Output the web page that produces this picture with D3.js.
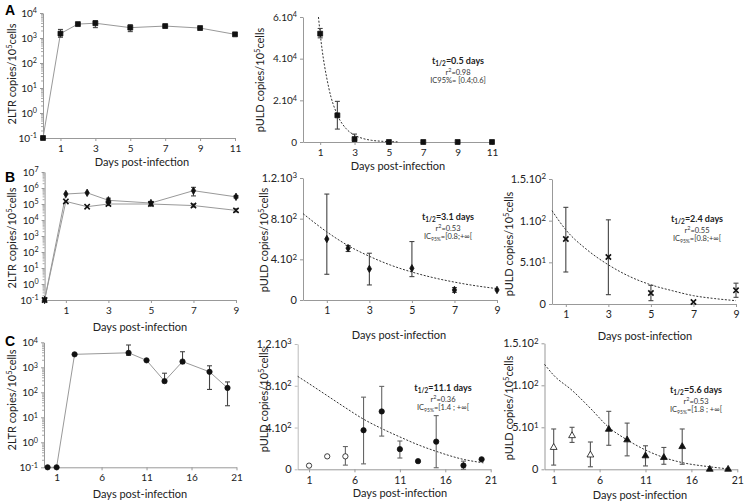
<!DOCTYPE html>
<html>
<head>
<meta charset="utf-8">
<script src="https://cdn.jsdelivr.net/npm/d3@7"></script>
<style>
body { margin: 0; background: #fff; }
svg { font-family: Lato, "Liberation Sans", sans-serif; }
</style>
</head>
<body>
<svg id="fig" width="748" height="504"></svg>
<script>
(function(){

//---- panel A : 2LTR and pULD, days 0-11
var daysA = [0, 1, 2, 3, 5, 7, 9, 11];
var ltrA = [0.1, 1500, 3600, 3900, 2600, 3000, 2500, 1400];
var ltrALo = [null, 1070, null, 2600, 1800, 2750, null, null];
var ltrAHi = [null, 2200, null, 4900, 3400, 3300, null, null];

var daysAp = [1, 2, 3, 5, 7, 9, 11];
var puldA = [52000, 12800, 1400, 0, 0, 0, 0];
var puldALo = [50000, 6200, 300, null, null, null, null];
var puldAHi = [54500, 19500, 3800, null, null, null, null];
var fitDaysA = [0.9, 1, 1.5, 2, 2.5, 3, 3.5, 4, 4.5, 5, 5.5];
var fitA = [60000, 52000, 26000, 13000, 6500, 3300, 1650, 800, 400, 200, 80];

//---- panel B : two series, days 0-9
var daysB = [0, 1, 2, 3, 5, 7, 9];
var ltrB1 = [0.1, 4.2e5, 5e5, 1.7e5, 1.15e5, 6.8e5, 2.8e5];
var ltrB1Lo = [null, null, null, 1.1e5, 9e4, 3.2e5, 2.4e5];
var ltrB1Hi = [null, null, null, 2.3e5, 1.4e5, 1.1e6, 3.4e5];
var ltrB2 = [0.1, 1.45e5, 6.8e4, 1e5, 1e5, 8e4, 4e4];
var ltrB2Lo = [null, null, null, 8e4, 8e4, 6.5e4, 3.2e4];
var ltrB2Hi = [null, null, null, 1.3e5, 1.25e5, 1e5, 5e4];

var daysBp = [1, 2, 3, 5, 7, 9];
var puldB1 = [600, 510, 306, 312, 99, 99];
var puldB1Lo = [253, 477, 148, 230, 76, null];
var puldB1Hi = [1042, 536, 460, 575, 122, null];
var fitDaysB1 = [-0.12, 1, 2, 3, 4, 5, 6, 7, 8, 9];
var fitB1 = [850, 670, 535, 430, 343, 275, 220, 176, 140, 112];

var daysBp2 = [1, 3, 5, 7, 9];
var puldB2 = [78, 56.4, 13.2, 2.4, 16.4];
var puldB2Lo = [38.4, 11.2, 4, null, 8];
var puldB2Hi = [116, 101, 22.4, null, 25];
var fitDaysB2 = [0.35, 1, 2, 3, 4, 5, 6, 7, 8, 9];
var fitB2 = [112, 89, 65, 47, 33, 23, 16, 10, 6.5, 4];

//---- panel C : days 0-21
var daysC = [0, 1, 3, 9, 11, 13, 15, 18, 20];
var ltrC = [0.1, 0.1, 3300, 3800, 1900, 280, 1700, 660, 150];
var ltrCLo = [null, null, null, 3000, null, 240, 1400, 130, 29];
var ltrCHi = [null, null, null, 7800, null, 580, 4200, 1150, 260];

var daysCp = [1, 3, 5, 7, 9, 11, 13, 15, 18, 20];
var fittedC = [false, false, false, true, true, true, true, true, true, true];
var puldC1 = [35, 124, 124, 374, 554, 193, 78, 265, 37, 96];
var puldC1Lo = [null, null, 40, 52, 318, 108, null, 15, 0, null];
var puldC1Hi = [null, null, 218, 691, 794, 271, null, 514, 78, null];
var fitDaysC1 = [-0.25, 1, 3, 5, 7, 9, 11, 13, 15, 18, 20.2];
var fitC1 = [890, 820, 705, 590, 480, 390, 310, 235, 172, 95, 62];

var puldC2 = [26, 40, 17, 47.6, 35, 16, 14, 27, 0, 0];
var puldC2Lo = [5, 32, 3, 28.6, 16, 4, 6, 6, null, null];
var puldC2Hi = [48, 50, 32.5, 69, 55, 28, 26, 48, null, null];
var fitDaysC2 = [0, 1, 3, 5, 7, 9, 11, 13, 15, 18, 20];
var fitC2 = [125, 112, 94, 72.6, 50, 35, 23, 14, 8, 3, 0.5];

//---- tick labels
var xTicksA = [1, 3, 5, 7, 9, 11];
var xTicksB = [1, 3, 5, 7, 9];
var xTicksC = [1, 6, 11, 16, 21];
var yTicksA = [0, 2e4, 4e4, 6e4];
var yLabelsA = ["0", "2.10^4", "4.10^4", "6.10^4"];
var yTicks3 = [0, 400, 800, 1200];
var yLabels3 = ["0", "4.10^2", "8.10^2", "1.2.10^3"];
var yTicks2 = [0, 50, 100, 150];
var yLabels2 = ["0", "5.10^1", "1.10^2", "1.5.10^2"];

//---- fit annotations
var notes = [
    {half: "0.5", r2: "0.98", ic: "IC95%= [0.4;0.6]", sub: null},
    {half: "3.1", r2: "0.53", ic: "=[0.8;+\u221e[", sub: "95%"},
    {half: "2.4", r2: "0.55", ic: "=[0.8;+\u221e[", sub: "95%"},
    {half: "11.1", r2: "0.36", ic: "=[1.4 ; +\u221e[", sub: "95%"},
    {half: "5.6", r2: "0.53", ic: "=[1.8 ; +\u221e[", sub: "95%"}
];

var FONT = "Lato, 'Liberation Sans', sans-serif";
var svg = d3.select("#fig");

//turn "6.10^4" into text with superscript
function supify(sel){
    sel.each(function(){
        var s = this.textContent;
        var i = s.indexOf("^");
        if (i < 0) return;
        var t = d3.select(this);
        t.text(s.slice(0, i));
        t.append("tspan").attr("dy", "-0.45em").attr("font-size", "0.72em").text(s.slice(i + 1));
    });
}

//axes of one panel
function setPanel(c){
    var g = svg.append("g");
    var x = d3.scaleLinear().domain(c.xd).range(c.xr);
    var y = (c.log ? d3.scaleLog() : d3.scaleLinear()).domain(c.yd).range(c.yr);

    if (c.log){
        var lo = Math.round(Math.log10(c.yd[0])), hi = Math.round(Math.log10(c.yd[1]));
        var minor = [];
        for (var k = lo; k < hi; k++){
            for (var m = 2; m < 10; m++) minor.push(m * Math.pow(10, k));
        }
        g.append("g")
            .attr("transform", "translate(" + c.xr[0] + ",0)")
            .call(d3.axisLeft(y).tickValues(minor).tickSize(2).tickFormat(""))
            .call(function(a){ a.select(".domain").remove(); })
            .selectAll("line").attr("stroke", "#aaa");
    }

    var ya = g.append("g")
        .attr("transform", "translate(" + c.xr[0] + ",0)");
    if (c.log){
        var decades = d3.range(lo, hi + 1).map(function(k){ return Math.pow(10, k); });
        ya.call(d3.axisLeft(y).tickValues(decades).tickSize(3).tickSizeOuter(0).tickPadding(3)
            .tickFormat(function(d){ return "10^" + Math.round(Math.log10(d)); }));
    } else {
        ya.call(d3.axisLeft(y).tickValues(c.yt).tickSize(3).tickSizeOuter(0).tickPadding(3)
            .tickFormat(function(d, i){ return c.yl[i]; }));
    }
    ya.attr("font-family", FONT).attr("font-size", c.yfs || 10);
    ya.selectAll("path, line").attr("stroke", c.axisColor || "#999");
    ya.selectAll("text").attr("fill", "#222").call(supify);

    var xa = g.append("g")
        .attr("transform", "translate(0," + c.yr[0] + ")")
        .call(d3.axisBottom(x).tickValues(c.xt).tickSize(3).tickSizeOuter(0).tickPadding(4)
            .tickFormat(d3.format("d")));
    xa.attr("font-family", FONT).attr("font-size", c.xfs || 10);
    xa.selectAll("path, line").attr("stroke", "#999");
    xa.selectAll("text").attr("fill", "#222");

    //x title
    g.append("text")
        .attr("x", c.xtitle[0]).attr("y", c.xtitle[1])
        .attr("text-anchor", "middle").attr("font-size", 11).attr("fill", "#222")
        .text("Days post-infection");

    //y title
    var t = g.append("text")
        .attr("transform", "translate(" + c.ytitle[0] + "," + c.ytitle[1] + ") rotate(-90)")
        .attr("text-anchor", "middle").attr("font-size", 11).attr("fill", "#222");
    t.append("tspan").text(c.ylab + " copies/10");
    t.append("tspan").attr("dy", -4).attr("font-size", 7.5).text("5");
    t.append("tspan").attr("dy", 4).text("cells");

    return {g: g, x: x, y: y};
}

function drawLine(p, days, vals){
    p.g.append("path")
        .datum(days.map(function(d, i){ return [d, vals[i]]; }))
        .attr("fill", "none").attr("stroke", "#999").attr("stroke-width", 1)
        .attr("d", d3.line().x(function(d){ return p.x(d[0]); }).y(function(d){ return p.y(d[1]); }));
}

function drawFit(p, days, vals){
    p.g.append("path")
        .datum(days.map(function(d, i){ return [d, vals[i]]; }))
        .attr("fill", "none").attr("stroke", "#333").attr("stroke-width", 1)
        .attr("stroke-dasharray", "2,1.6")
        .attr("d", d3.line().curve(d3.curveMonotoneX)
            .x(function(d){ return p.x(d[0]); }).y(function(d){ return p.y(d[1]); }));
}

function drawErr(p, days, lo, hi, color){
    var rows = days.map(function(d, i){ return {d: d, lo: lo[i], hi: hi[i]}; })
        .filter(function(r){ return r.lo != null && r.hi != null; });
    var eb = p.g.append("g").attr("stroke", color || "#444").attr("stroke-width", 1.1);
    eb.selectAll(".v").data(rows).enter().append("line")
        .attr("x1", function(r){ return p.x(r.d); }).attr("x2", function(r){ return p.x(r.d); })
        .attr("y1", function(r){ return p.y(r.lo); }).attr("y2", function(r){ return p.y(r.hi); });
    ["lo", "hi"].forEach(function(k){
        eb.selectAll(".c" + k).data(rows).enter().append("line")
            .attr("x1", function(r){ return p.x(r.d) - 2.5; }).attr("x2", function(r){ return p.x(r.d) + 2.5; })
            .attr("y1", function(r){ return p.y(r[k]); }).attr("y2", function(r){ return p.y(r[k]); });
    });
}

var symbols = {
    square: [d3.symbolSquare, 24, true],
    diamond: [d3.symbolDiamond, 16, true],
    times: [d3.symbolTimes, 20, false],
    circle: [d3.symbolCircle, 22, true],
    triangle: [d3.symbolTriangle, 20, true]
};

function drawMarks(p, days, vals, type, filled){
    var s = symbols[type];
    p.g.append("g").selectAll("path")
        .data(days.map(function(d, i){ return {d: d, v: vals[i], f: filled ? filled[i] : true}; }))
        .enter().append("path")
        .attr("transform", function(r){ return "translate(" + p.x(r.d) + "," + p.y(r.v) + ")"; })
        .attr("d", d3.symbol().type(s[0]).size(s[1]))
        .attr("fill", function(r){ return s[2] ? (r.f ? "#111" : "#fff") : "none"; })
        .attr("stroke", "#111")
        .attr("stroke-width", s[2] ? 0.8 : 1.6);
}

function drawNote(x, y, n){
    var t = svg.append("text").attr("x", x).attr("y", y).attr("text-anchor", "middle")
        .attr("font-size", 9).attr("font-weight", "bold").attr("fill", "#222");
    t.append("tspan").text("t");
    t.append("tspan").attr("dy", 2).attr("font-size", 6.5).text("1/2");
    t.append("tspan").attr("dy", -2).text("=" + n.half + " days");

    var r = svg.append("text").attr("x", x).attr("y", y + 11).attr("text-anchor", "middle")
        .attr("font-size", 7.5).attr("fill", "#333");
    r.append("tspan").text("r");
    r.append("tspan").attr("dy", -3).attr("font-size", 5.5).text("2");
    r.append("tspan").attr("dy", 3).text("=" + n.r2);

    var ic = svg.append("text").attr("x", x).attr("y", y + 19).attr("text-anchor", "middle")
        .attr("font-size", 7.5).attr("fill", "#333");
    if (n.sub){
        ic.append("tspan").text("IC");
        ic.append("tspan").attr("dy", 1.8).attr("font-size", 5).text(n.sub);
        ic.append("tspan").attr("dy", -1.8).text(n.ic);
    } else {
        ic.text(n.ic);
    }
}

function letter(l, x, y){
    svg.append("text").attr("x", x).attr("y", y).attr("font-size", 14).attr("font-weight", "bold")
        .attr("font-family", "'Liberation Sans', Arial, sans-serif").text(l);
}

//---- A
letter("A", 5, 15);
var aL = setPanel({xr: [43, 235], xd: [0, 11], yr: [138, 13], yd: [0.1, 1e4], log: true,
    xt: xTicksA, xtitle: [142, 166], ytitle: [16, 74], ylab: "2LTR"});
drawLine(aL, daysA, ltrA);
drawErr(aL, daysA, ltrALo, ltrAHi);
drawMarks(aL, daysA, ltrA, "square");

var aR = setPanel({xr: [303, 492], xd: [0, 11], yr: [142, 17], yd: [0, 6e4],
    yt: yTicksA, yl: yLabelsA, xt: xTicksA, xtitle: [398, 170], ytitle: [264, 80], ylab: "pULD"});
drawFit(aR, fitDaysA, fitA);
drawErr(aR, daysAp, puldALo, puldAHi);
drawMarks(aR, daysAp, puldA, "square");
drawNote(458, 64, notes[0]);

//---- B
letter("B", 5, 182);
var bL = setPanel({xr: [44.6, 236], xd: [0, 9], yr: [300, 172], yd: [0.1, 1e7], log: true,
    xt: xTicksB, xtitle: [140, 331], ytitle: [16, 238], ylab: "2LTR"});
drawLine(bL, daysB, ltrB1);
drawLine(bL, daysB, ltrB2);
drawErr(bL, daysB, ltrB1Lo, ltrB1Hi);
drawErr(bL, daysB, ltrB2Lo, ltrB2Hi);
drawMarks(bL, daysB, ltrB1, "diamond");
drawMarks(bL, daysB, ltrB2, "times");

var bM = setPanel({xr: [303, 497], xd: [-0.12, 9], yr: [300, 178], yd: [0, 1200],
    yt: yTicks3, yl: yLabels3, yfs: 11, xfs: 10.5, xt: xTicksB, xtitle: [399, 339], ytitle: [268, 240], ylab: "pULD"});
drawFit(bM, fitDaysB1, fitB1);
drawErr(bM, daysBp, puldB1Lo, puldB1Hi);
drawMarks(bM, daysBp, puldB1, "diamond");
drawNote(448, 220, notes[1]);

var bR = setPanel({xr: [552, 736], xd: [0.35, 9], yr: [304, 179], yd: [0, 150],
    yt: yTicks2, yl: yLabels2, yfs: 11, xfs: 10.5, xt: xTicksB, xtitle: [645, 340], ytitle: [513, 244], ylab: "pULD"});
drawFit(bR, fitDaysB2, fitB2);
drawErr(bR, daysBp2, puldB2Lo, puldB2Hi);
drawMarks(bR, daysBp2, puldB2, "times");
drawNote(697, 222, notes[2]);

//---- C
letter("C", 5, 346);
var cL = setPanel({xr: [44, 236.5], xd: [-0.4, 21], yr: [467.3, 342.3], yd: [0.1, 1e4], log: true,
    xt: xTicksC, xtitle: [140, 498], ytitle: [16, 400], ylab: "2LTR"});
drawLine(cL, daysC, ltrC);
drawErr(cL, daysC, ltrCLo, ltrCHi);
drawMarks(cL, daysC, ltrC, "circle");

var cM = setPanel({xr: [297.7, 490.7], xd: [-0.25, 21], yr: [469.3, 344], yd: [0, 1200],
    yt: yTicks3, yl: yLabels3, yfs: 11, xfs: 10.5, axisColor: "#bbb", xt: xTicksC, xtitle: [400, 497], ytitle: [268, 400], ylab: "pULD"});
drawFit(cM, fitDaysC1, fitC1);
drawErr(cM, daysCp, puldC1Lo, puldC1Hi, "#666");
drawMarks(cM, daysCp, puldC1, "circle", fittedC);
drawNote(443, 391, notes[3]);

var cR = setPanel({xr: [544.5, 737.3], xd: [0, 21], yr: [469.3, 343.3], yd: [0, 150],
    yt: yTicks2, yl: yLabels2, yfs: 11, xfs: 10.5, xt: xTicksC, xtitle: [640, 499], ytitle: [513, 408], ylab: "pULD"});
drawFit(cR, fitDaysC2, fitC2);
drawErr(cR, daysCp, puldC2Lo, puldC2Hi, "#555");
drawMarks(cR, daysCp, puldC2, "triangle", fittedC);
drawNote(696, 393, notes[4]);

})();
</script>
</body>
</html>
